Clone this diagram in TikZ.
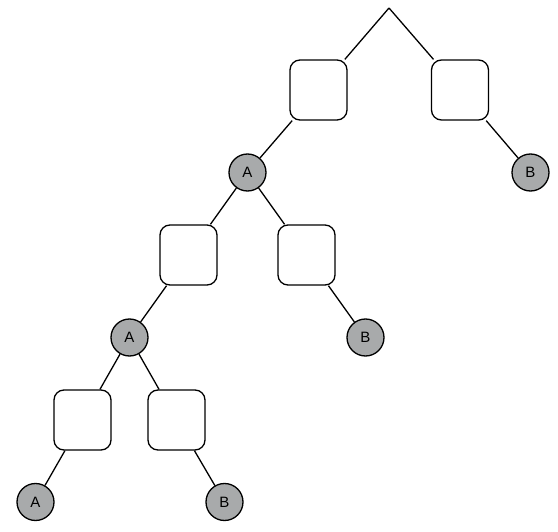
\documentclass[tikz,border=0pt]{standalone}
\usepackage{fontspec}
\setmainfont{Liberation Sans}
\usetikzlibrary{calc}
\definecolor{leafgray}{RGB}{168,170,171}

\begin{document}
\begin{tikzpicture}[x=1pt,y=-1pt,line width=1.3pt,
    inner/.style={draw,rounded corners=10pt,minimum width=57pt,minimum height=60pt,inner sep=0pt},
    leaf/.style={draw,circle,fill=leafgray,minimum size=37pt,inner sep=0pt,font=\fontsize{15}{17}\selectfont}]
      \useasboundingbox (0,0) rectangle (558,532);
      \coordinate (root) at (389,8);
      % first level
      \node[inner] (l) at (318.5,90) {};
      \node[inner] (r) at (460,90) {};
      \node[leaf] (la) at (247.5,172.5) {A};
      \node[leaf] (rb) at (530.5,172.5) {B};
      % second level
      \node[inner] (ll) at (188.5,255) {};
      \node[inner] (lr) at (306.5,255) {};
      \node[leaf] (lla) at (129.5,337.5) {A};
      \node[leaf] (lrb) at (365.5,337.5) {B};
      % third level
      \node[inner] (lll) at (82.5,420) {};
      \node[inner] (llr) at (176.5,420) {};
      \node[leaf] (llla) at (35.5,502) {A};
      \node[leaf] (llrb) at (224.5,502) {B};
      % edges
      \draw (root) -- (l);
      \draw (root) -- (r);
      \draw (l) -- (la);
      \draw (r) -- (rb);
      \draw (la) -- (ll);
      \draw (la) -- (lr);
      \draw (lr) -- (lrb);
      \draw (ll) -- (lla);
      \draw (lla) -- (lll);
      \draw (lla) -- (llr);
      \draw (lll) -- (llla);
      \draw (llr) -- (llrb);
    \end{tikzpicture}
\end{document}
